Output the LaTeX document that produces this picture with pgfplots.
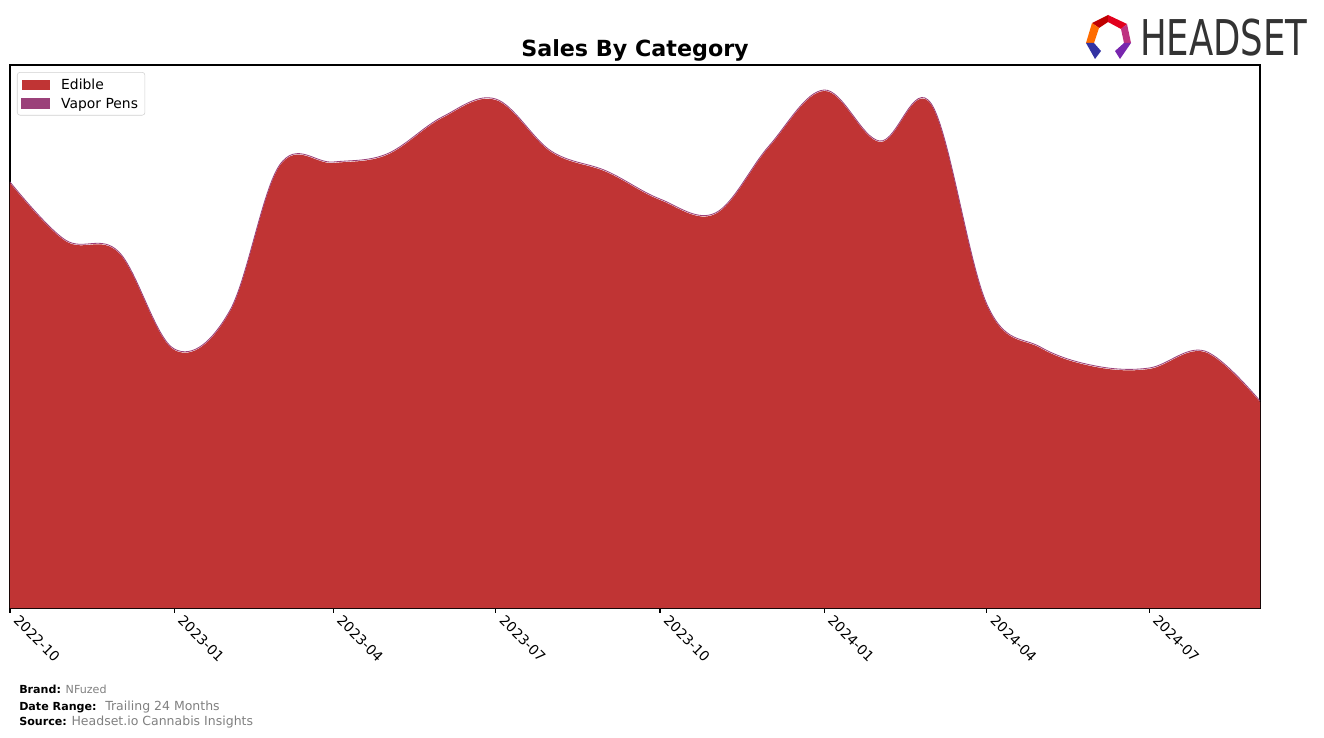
\documentclass[border=0pt]{standalone}
\usepackage{pgfplots}
\pgfplotsset{compat=1.18}
\usepackage{pgfplotstable}
\usepackage{fontspec}
\setmainfont{DejaVu Sans}
\definecolor{edible}{RGB}{192,52,52}
\definecolor{vapor}{RGB}{155,65,122}
\definecolor{foot}{RGB}{128,128,128}
\pgfplotstableread{
x edible vapor
0   425 1
31  367 1
61  355 1
92  258 1
123 296 1
151 442 1
181 445 1
211 453 1
242 490 1
272 508 1
303 456 1
334 436 1
364 408 1
395 394 1
425 461 1
456 517 1
487 466 1
516 503 1
547 303 1
577 260 1
608 241 1
638 239 1
669 256 1
700 206 1
}\datatable
\begin{document}
\begin{tikzpicture}
\path[use as bounding box] (0,0) rectangle (953.28pt,-531.36pt);
\begin{axis}[
  at={(7.2pt,-46.8pt)}, anchor=north west,
  width=900pt, height=390.96pt, scale only axis,
  xmin=0, xmax=700, ymin=0, ymax=543,
  axis line style={line width=0.8pt},
  ytick=\empty,
  xtick={0,92,181,272,364,456,547,638},
  xticklabels={2022-10,2023-01,2023-04,2023-07,2023-10,2024-01,2024-04,2024-07},
  xtick pos=bottom, tick align=outside,
  major tick length=3.5pt,
  tick style={black, line width=0.8pt},
  x tick label style={rotate=-45, anchor=north west, font=\fontsize{10}{12}\selectfont, inner sep=0pt, xshift=5.7pt, yshift=4.6pt},
  /pgf/number format/assume math mode=true,
  legend style={at={(0.0056,0.987)}, anchor=north west, draw=black!18, rounded corners=2pt, font=\fontsize{10}{12}\selectfont, inner sep=3pt, row sep=2pt,
    nodes={inner sep=2pt, text depth=0pt}},
  legend cell align=left,
  clip=true,
]
\addplot[draw=none, fill=edible, smooth, tension=0.6, area legend,
  legend image code/.code={\fill[edible, sharp corners] (-2pt,-3.6pt) rectangle (18pt,3.6pt);\path (24pt,0);}]
  table[x=x, y=edible] {\datatable} \closedcycle;
\addlegendentry{Edible}
\addplot[draw=vapor, line width=0.6pt, smooth, tension=0.6,
  legend image code/.code={\fill[vapor, sharp corners] (-2pt,-3.6pt) rectangle (18pt,3.6pt);\path (24pt,0);}]
  table[x=x, y expr=\thisrow{edible}+\thisrow{vapor}] {\datatable};
\addlegendentry{Vapor Pens}
\end{axis}
\begin{scope}[x=0.72pt, y=-0.72pt]
\node[font=\bfseries\fontsize{16}{18}\selectfont] at (635,50) {Sales By Category};
% logo
\fill[red!75!black] (1092,23) -- (1108,15) -- (1108,22) -- (1099,28) -- cycle;
\fill[red!55!purple] (1108,15) -- (1127,24) -- (1121,29) -- (1108,22) -- cycle;
\fill[magenta!75!black] (1127,24) -- (1131,43) -- (1124,43) -- (1121,29) -- cycle;
\fill[orange!85!red] (1092,23) -- (1099,28) -- (1094,43) -- (1086,43) -- cycle;
\fill[blue!55!black!80!white] (1086,43) -- (1094,43) -- (1101,51) -- (1095,59) -- cycle;
\fill[blue!50!purple!85!white] (1131,43) -- (1124,43) -- (1115,51) -- (1120,59) -- cycle;
\node[anchor=base west, inner sep=0pt, xscale=0.72, text=black!80, font=\fontsize{35.5}{36}\selectfont] at (1140,56) {HEADSET};
% footer
\node[anchor=base west, inner sep=0pt, font=\fontsize{8}{9}\selectfont] at (19,693) {\textbf{Brand:} \textcolor{foot}{NFuzed}};
\node[anchor=base west, inner sep=0pt, font=\fontsize{8}{9}\selectfont] at (19,710) {\textbf{Date Range:} \textcolor{foot}{\fontsize{9}{10}\selectfont\ Trailing 24 Months}};
\node[anchor=base west, inner sep=0pt, font=\fontsize{8}{9}\selectfont] at (19,725) {\textbf{Source:} \textcolor{foot}{\fontsize{9}{10}\selectfont Headset.io Cannabis Insights}};
\end{scope}
\end{tikzpicture}
\end{document}
